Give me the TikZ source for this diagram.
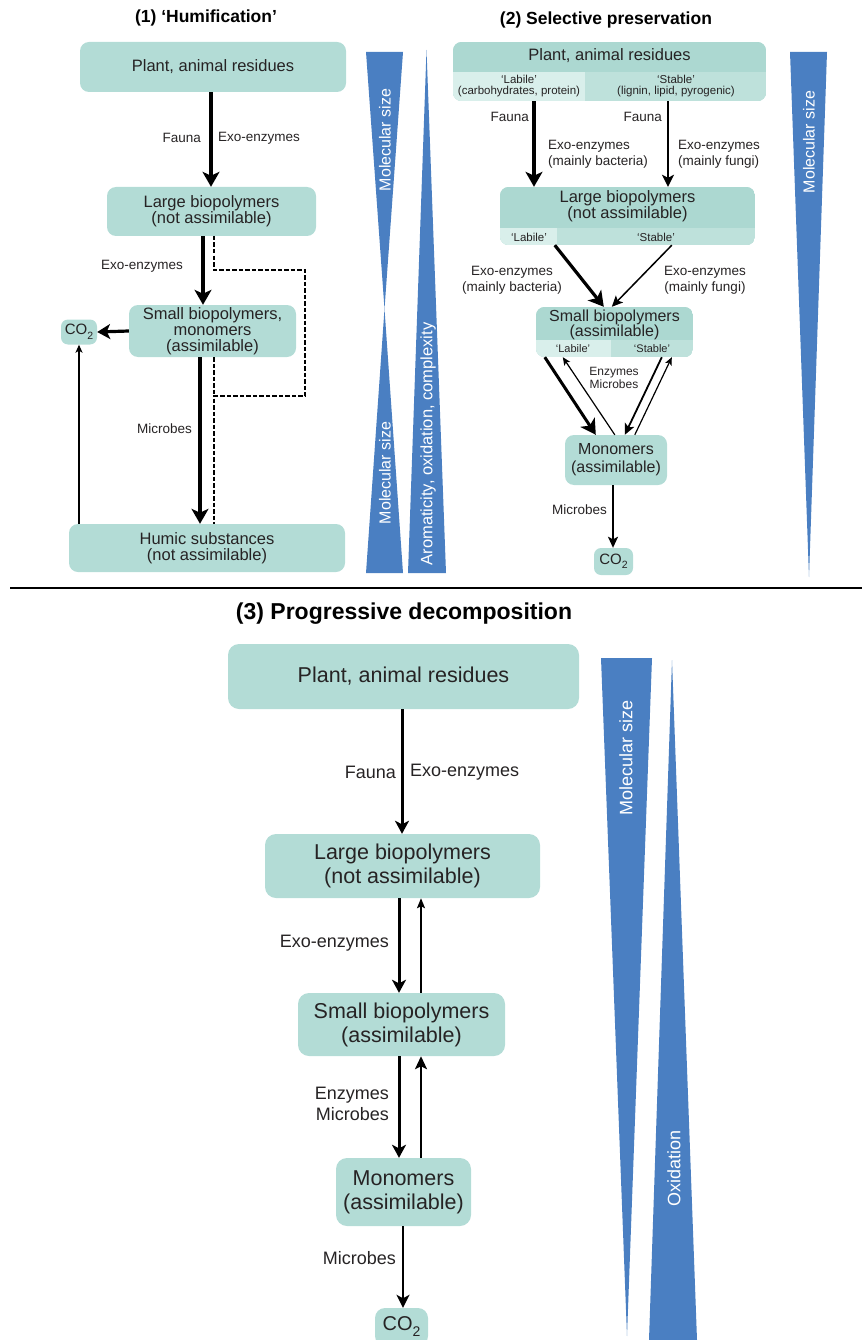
\documentclass[tikz,border=0pt]{standalone}
\usepackage{fontspec}
\setmainfont{Liberation Sans}
\usetikzlibrary{arrows.meta,calc}
\definecolor{tealbox}{HTML}{B3DCD6}
\definecolor{tealhdr}{HTML}{ACD8D1}
\definecolor{teallite}{HTML}{D9EFEB}
\definecolor{tealmid}{HTML}{BEE1DB}
\definecolor{wedgeblue}{HTML}{4A7FC2}
\definecolor{txt}{HTML}{262324}
\newcommand\myfs[2]{\fontsize{#1}{#2}\selectfont}
\newcommand\mysub[1]{\raisebox{-0.3em}{\scalebox{0.7}{#1}}}
\begin{document}
\begin{tikzpicture}[x=1pt,y=-1pt,
  box/.style={fill=tealbox, rounded corners=9pt, inner sep=0pt, align=center, text=txt},
  shell/.style={inner sep=0pt},
  lab/.style={inner sep=0pt, text=txt},
  ttl/.style={inner sep=0pt, text=black, font=\bfseries},
  wedge/.style={fill=wedgeblue},
  wtext/.style={text=white, rotate=90, inner sep=0pt},
  arrbig/.style={draw=black, line width=3.2pt, -{Stealth[length=15pt,width=17pt,inset=4pt]}},
  arrmid/.style={draw=black, line width=2pt, -{Stealth[length=12pt,width=12pt,inset=3pt]}},
  arrthin/.style={draw=black, line width=1.2pt, -{Stealth[length=8pt,width=7pt,inset=2pt]}},
  dashln/.style={draw=black, line width=2pt, dash pattern=on 4.5pt off 2pt}
]
\useasboundingbox (0,0) rectangle (862,1340);

% ================= Panel 1 =================
\node[ttl, font=\bfseries\myfs{17.5}{20}] (t1) at (206,18) {(1) ‘Humification’};
\node[box, minimum width=266pt, minimum height=50pt, font=\myfs{16.5}{17}] (p1a) at (213,67) {Plant, animal residues};
\node[box, minimum width=209pt, minimum height=49pt, font=\myfs{16.5}{16}] (p1b) at (211.5,211.5) {Large biopolymers\\(not assimilable)};
\node[box, minimum width=167pt, minimum height=52pt, font=\myfs{16.5}{16}] (p1c) at (212.5,331) {Small biopolymers,\\monomers\\(assimilable)};
\node[box, minimum width=36pt, minimum height=25pt, rounded corners=7pt, font=\myfs{15}{16}] (p1co2) at (79,332) {CO\mysub{2}};
\node[box, minimum width=276pt, minimum height=48pt, font=\myfs{16.5}{16}] (p1d) at (207,548) {Humic substances\\(not assimilable)};

\coordinate (p1x) at (211,0);
\draw[arrbig] (p1a.south -| p1x) -- (p1b.north -| p1x);
\node[lab, anchor=east, font=\myfs{13.5}{15}] (l1a) at (201,138) {Fauna};
\node[lab, anchor=west, font=\myfs{13.5}{15}] (l1b) at (218,138) {Exo-enzymes};

\coordinate (p1y) at (203,0);
\draw[arrbig] (p1b.south -| p1y) -- (p1c.north -| p1y);
\node[lab, anchor=east, font=\myfs{13.5}{15}] (l1c) at (183,266) {Exo-enzymes};

\coordinate (d0) at (214,236);
\draw[dashln] (d0) -- (214,270) -- (305,270) -- (305,396) -- (214,396) -- (d0 |- p1d.north);
\draw[dashln] (d0 |- p1c.south) -- (214,396);

\draw[arrbig, -{Stealth[length=13pt,width=15pt,inset=3.5pt]}] (p1c.west) -- (p1co2.east);

\coordinate (p1z) at (200,0);
\draw[arrbig] (p1c.south -| p1z) -- (p1d.north -| p1z);
\node[lab, anchor=east, font=\myfs{13.5}{15}] (l1d) at (192,429) {Microbes};

\draw[arrthin] (p1d.north -| p1co2.south) -- (p1co2.south);

% wedges panel 1
\fill[wedge] (366,52) -- (403,52) -- (384.5,309) -- cycle;
\fill[wedge] (384.5,309) -- (403,573) -- (366,573) -- cycle;
\fill[wedge] (426.5,50) -- (446,573) -- (408,573) -- cycle;
\node[wtext, font=\myfs{16}{17}] (w1a) at (385,140) {Molecular size};
\node[wtext, font=\myfs{16}{17}] (w1b) at (385,473) {Molecular size};
\node[wtext, font=\myfs{16.5}{17}] (w1c) at (428,444) {Aromaticity, oxidation, complexity};

% ================= Panel 2 =================
\node[ttl, font=\bfseries\myfs{17.5}{20}] (t2) at (606,20) {(2) Selective preservation};

\node[shell, minimum width=313pt, minimum height=59pt] (p2a) at (609.5,71.5) {};
\begin{scope}
  \clip[rounded corners=9pt] (p2a.south west) rectangle (p2a.north east);
  \fill[tealhdr] (p2a.south west) rectangle (p2a.north east);
  \fill[teallite] (453,72) rectangle (585,101);
  \fill[tealmid] (585,72) rectangle (766,101);
\end{scope}
\node[lab, font=\myfs{16.5}{17}] (p2at) at (609.5,56) {Plant, animal residues};
\node[lab, align=center, font=\myfs{11.5}{11}] (p2al) at (519,86) {‘Labile’\\(carbohydrates, protein)};
\node[lab, align=center, font=\myfs{11.5}{11}] (p2as) at (676,86) {‘Stable’\\(lignin, lipid, pyrogenic)};

\node[shell, minimum width=255pt, minimum height=58pt] (p2b) at (627.5,216) {};
\begin{scope}
  \clip[rounded corners=9pt] (p2b.south west) rectangle (p2b.north east);
  \fill[tealhdr] (p2b.south west) rectangle (p2b.north east);
  \fill[teallite] (500,228) rectangle (557,245);
  \fill[tealmid] (557,228) rectangle (755,245);
\end{scope}
\node[lab, align=center, font=\myfs{16.5}{16}] (p2bt) at (627.5,206) {Large biopolymers\\(not assimilable)};
\node[lab, font=\myfs{11.5}{12}] (p2bl) at (529,237) {‘Labile’};
\node[lab, font=\myfs{11.5}{12}] (p2bs) at (656,237) {‘Stable’};

\coordinate (p2x1) at (534,0);
\coordinate (p2x2) at (668,0);
\draw[arrbig] (p2a.south -| p2x1) -- (p2b.north -| p2x1);
\draw[arrmid] (p2a.south -| p2x2) -- (p2b.north -| p2x2);
\node[lab, anchor=east, font=\myfs{13.5}{15}] (l2a) at (529,117) {Fauna};
\node[lab, anchor=east, font=\myfs{13.5}{15}] (l2b) at (662,117) {Fauna};
\node[lab, anchor=west, align=left, font=\myfs{13.5}{16}] (l2c) at (548,154) {Exo-enzymes\\(mainly bacteria)};
\node[lab, anchor=west, align=left, font=\myfs{13.5}{16}] (l2d) at (678,154) {Exo-enzymes\\(mainly fungi)};

\node[shell, minimum width=157pt, minimum height=50pt] (p2c) at (614.5,332) {};
\begin{scope}
  \clip[rounded corners=9pt] (p2c.south west) rectangle (p2c.north east);
  \fill[tealhdr] (p2c.south west) rectangle (p2c.north east);
  \fill[teallite] (536,340) rectangle (611,357);
  \fill[tealmid] (611,340) rectangle (693,357);
\end{scope}
\node[lab, align=center, font=\myfs{16}{15}] (p2ct) at (614.5,325) {Small biopolymers\\(assimilable)};
\node[lab, font=\myfs{11}{12}] (p2cl) at (573,349) {‘Labile’};
\node[lab, font=\myfs{11}{12}] (p2cs) at (652,349) {‘Stable’};

\draw[arrbig] ($(p2b.south west)+(55,0)$) -- ($(p2c.north west)+(68,0)$);
\draw[arrthin, line width=1.5pt, -{Stealth[length=11pt,width=10pt,inset=2.5pt]}] ($(p2b.south west)+(172,0)$) -- ($(p2c.north west)+(76,0)$);
\node[lab, align=center, font=\myfs{13.5}{16}] (l2e) at (512,280) {Exo-enzymes\\(mainly bacteria)};
\node[lab, align=center, font=\myfs{13.5}{16}] (l2f) at (705,280) {Exo-enzymes\\(mainly fungi)};

\node[box, minimum width=102pt, minimum height=50pt, font=\myfs{16}{18}] (p2d) at (616,460) {Monomers\\(assimilable)};

\draw[arrbig, line width=3pt] ($(p2c.south west)+(9,0)$) -- ($(p2d.north west)+(31,0)$);
\draw[arrthin] ($(p2d.north west)+(50,0)$) -- ($(p2c.south west)+(27,0)$);
\draw[arrmid, line width=1.8pt, -{Stealth[length=11pt,width=10pt,inset=2.5pt]}] ($(p2c.south west)+(126,0)$) -- ($(p2d.north west)+(60,0)$);
\draw[arrthin] ($(p2d.north west)+(70,0)$) -- ($(p2c.south west)+(136,0)$);
\node[lab, align=center, font=\myfs{12}{13}] (l2g) at (614,378) {Enzymes\\Microbes};

\node[box, minimum width=39pt, minimum height=27pt, rounded corners=7pt, font=\myfs{15}{16}] (p2co2) at (613.5,561.5) {CO\mysub{2}};
\coordinate (p2x3) at (613,0);
\draw[arrmid, line width=1.8pt, -{Stealth[length=11pt,width=10pt,inset=2.5pt]}] (p2d.south -| p2x3) -- (p2co2.north -| p2x3);
\node[lab, anchor=east, font=\myfs{13.5}{15}] (l2h) at (607,510) {Microbes};

\fill[wedge] (790,52) -- (827,52) -- (809,577) -- cycle;
\node[wtext, font=\myfs{16}{17}] (w2a) at (809,142) {Molecular size};

% divider
\draw[line width=2.5pt, black] (10,588) -- (862,588);

% ================= Panel 3 =================
\node[ttl, font=\bfseries\myfs{23}{26}] (t3) at (404,614) {(3) Progressive decomposition};
\node[box, minimum width=351pt, minimum height=65pt, rounded corners=11pt, font=\myfs{21.5}{24}] (p3a) at (403.5,676.5) {Plant, animal residues};
\node[box, minimum width=275pt, minimum height=64pt, rounded corners=11pt, font=\myfs{21.5}{24}] (p3b) at (402.5,866) {Large biopolymers\\(not assimilable)};
\node[box, minimum width=207pt, minimum height=63pt, rounded corners=11pt, font=\myfs{21.5}{24}] (p3c) at (401.5,1024.5) {Small biopolymers\\(assimilable)};
\node[box, minimum width=135pt, minimum height=68pt, rounded corners=11pt, font=\myfs{21.5}{24}] (p3d) at (403.5,1192) {Monomers\\(assimilable)};
\node[box, minimum width=53pt, minimum height=38pt, rounded corners=10pt, font=\myfs{20}{22}] (p3co2) at (401.5,1327) {CO\mysub{2}};

\coordinate (p3x1) at (402,0);
\coordinate (p3x2) at (399,0);
\coordinate (p3x3) at (421,0);
\coordinate (p3x4) at (403,0);
\draw[arrbig, line width=3pt, -{Stealth[length=13pt,width=14pt,inset=3.5pt]}] (p3a.south -| p3x1) -- (p3b.north -| p3x1);
\node[lab, anchor=east, font=\myfs{18}{20}] (l3a) at (396,772) {Fauna};
\node[lab, anchor=west, font=\myfs{18}{20}] (l3b) at (410,772) {Exo-enzymes};

\draw[arrbig, line width=3pt, -{Stealth[length=13pt,width=14pt,inset=3.5pt]}] (p3b.south -| p3x2) -- (p3c.north -| p3x2);
\draw[arrthin, line width=1.6pt, -{Stealth[length=10pt,width=8pt,inset=2pt]}] (p3c.north -| p3x3) -- (p3b.south -| p3x3);
\node[lab, anchor=east, font=\myfs{18}{20}] (l3c) at (389,943) {Exo-enzymes};

\draw[arrbig, line width=3pt, -{Stealth[length=13pt,width=14pt,inset=3.5pt]}] (p3c.south -| p3x2) -- (p3d.north -| p3x2);
\draw[arrmid, line width=2.2pt, -{Stealth[length=13pt,width=12pt,inset=3pt]}] (p3d.north -| p3x3) -- (p3c.south -| p3x3);
\node[lab, anchor=east, align=right, font=\myfs{18}{21}] (l3d) at (389,1104) {Enzymes\\Microbes};

\draw[arrbig, line width=2.6pt, -{Stealth[length=13pt,width=13pt,inset=3.5pt]}] (p3d.south -| p3x4) -- (p3co2.north -| p3x4);
\node[lab, anchor=east, font=\myfs{18}{20}] (l3e) at (396,1258) {Microbes};

\fill[wedge] (601,658) -- (652,658) -- (627,1336) -- cycle;
\fill[wedge] (672,660) -- (697,1340) -- (649,1340) -- cycle;
\node[wtext, font=\myfs{18}{20}] (w3a) at (626,758) {Molecular size};
\node[wtext, font=\myfs{18}{20}] (w3b) at (674,1168) {Oxidation};
\end{tikzpicture}
\end{document}
